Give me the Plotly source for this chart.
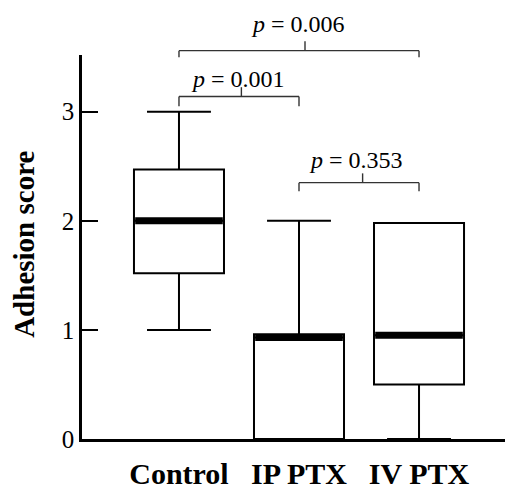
import plotly.graph_objects as go

categories = ["Control", "IP PTX", "IV PTX"]
q1_vals = [1.52, 0.0, 0.50]
median_vals = [2.0, 0.93, 0.95]
q3_vals = [2.47, 0.96, 1.98]
low_vals = [1.0, 0.0, 0.0]
high_vals = [3.0, 2.0, 1.98]
y_ticks = [0, 1, 2, 3]

# significance brackets: (left idx, right idx, level, end tick, centre tick x, label, label x, label y)
brackets = [
    (0, 2, 3.56, 0.06, 1.05, "0.006", 0.99, 3.80),
    (0, 1, 3.14, 0.09, 0.52, "0.001", 0.49, 3.30),
    (1, 2, 2.35, 0.08, 1.53, "0.353", 1.475, 2.56),
]

YMAX = 3.52
BOXW = 0.75
xs = list(range(len(categories)))

fig = go.Figure()
fig.add_trace(go.Box(
    x=xs, q1=q1_vals, median=median_vals, q3=q3_vals,
    lowerfence=low_vals, upperfence=high_vals,
    width=BOXW, whiskerwidth=0.71, boxpoints=False,
    fillcolor="white", line=dict(color="black", width=2),
    showlegend=False, hoverinfo="skip",
))

mx, my = [], []
for i, m in zip(xs, median_vals):
    mx += [i - BOXW / 2 + 0.01, i + BOXW / 2 - 0.01, None]
    my += [m, m, None]
fig.add_trace(go.Scatter(x=mx, y=my, mode="lines",
                         line=dict(color="black", width=7),
                         showlegend=False, hoverinfo="skip"))

shapes = []
annotations = []
lc = dict(color="#333333", width=1.4)
for a, b, lvl, endt, cx, lab, lx, ly in brackets:
    yp = lvl / YMAX
    ye = (lvl - endt) / YMAX
    yc = (lvl + 0.085) / YMAX
    shapes.append(dict(type="line", xref="x", yref="paper", x0=a, x1=b, y0=yp, y1=yp, line=lc))
    shapes.append(dict(type="line", xref="x", yref="paper", x0=a, x1=a, y0=yp, y1=ye, line=lc))
    shapes.append(dict(type="line", xref="x", yref="paper", x0=b, x1=b, y0=yp, y1=ye, line=lc))
    shapes.append(dict(type="line", xref="x", yref="paper", x0=cx, x1=cx, y0=yp, y1=yc, line=lc))
    annotations.append(dict(text="<i>p</i> = " + lab, xref="x", yref="paper",
                            x=lx, y=ly / YMAX, xanchor="center", yanchor="middle",
                            showarrow=False,
                            font=dict(family="Liberation Serif", size=24, color="black")))

annotations.append(dict(text="<b>Adhesion score</b>", xref="paper", yref="paper",
                        x=(24 - 82) / 428, y=1.78 / YMAX, textangle=-90,
                        xanchor="center", yanchor="middle", showarrow=False,
                        font=dict(family="Liberation Serif", size=29, color="black")))

fig.update_layout(
    width=505, height=485,
    margin=dict(l=74, r=3, t=47, b=54),
    plot_bgcolor="white", paper_bgcolor="white",
    shapes=shapes, annotations=annotations,
    xaxis=dict(range=[-0.808, 2.758], tickvals=xs,
               ticktext=["<b>%s</b>" % c for c in categories],
               showline=True, linecolor="black", linewidth=2.5,
               ticks="", showgrid=False, zeroline=False, automargin=False,
               ticklabelstandoff=6,
               tickfont=dict(family="Liberation Serif", size=30, color="black")),
    yaxis=dict(range=[0, YMAX], tickvals=y_ticks,
               showline=True, linecolor="black", linewidth=2.5,
               ticks="inside", ticklen=16, tickwidth=2, tickcolor="black",
               showgrid=False, zeroline=False, automargin=False,
               tickfont=dict(family="Liberation Serif", size=25, color="black")),
)

fig.write_html("out.html")
